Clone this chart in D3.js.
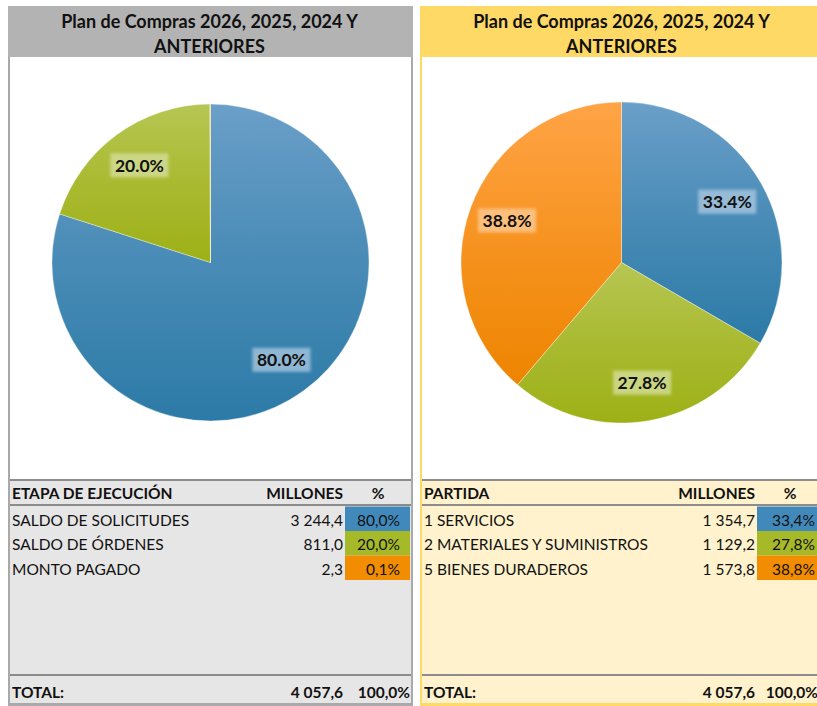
<!DOCTYPE html>
<html lang="es">
<head>
<meta charset="UTF-8">
<title>Plan de Compras</title>
<script src="https://cdn.jsdelivr.net/npm/d3@7"></script>
<style>
  body { margin: 0; background: #fff; }
  text { font-family: Lato, "Open Sans", sans-serif; }
  .title { font-size: 18px; font-weight: bold; fill: #111; }
  .cell { font-size: 15.5px; fill: #111; }
  .bold { font-weight: bold; }
  .plabel { font-size: 17.5px; font-weight: bold; fill: #111; }
</style>
</head>
<body>
<svg id="chart" width="817" height="706"></svg>
<script>
// ---- datos ----
var titulo = ["Plan de Compras 2026, 2025, 2024 Y", "ANTERIORES"];

var etapas = ["SALDO DE SOLICITUDES", "SALDO DE ÓRDENES", "MONTO PAGADO"];
var etapaMillones = [3244.4, 811.0, 2.3];
var etapaTotal = 4057.6;

var partidas = ["1 SERVICIOS", "2 MATERIALES Y SUMINISTROS", "5 BIENES DURADEROS"];
var partidaMillones = [1354.7, 1129.2, 1573.8];
var partidaTotal = 4057.6;

// colores de las rebanadas (arriba, abajo) y de las celdas
var sliceTop = ["#6a9fc8", "#b7c653", "#ffa446"];
var sliceBot = ["#2c7aa7", "#9db116", "#ee8500"];
var cellColor = ["#4189bb", "#a6b929", "#f28c00"];

var svg = d3.select("#chart");
var defs = svg.append("defs");

var es = d3.formatLocale({ decimal: ",", thousands: " ", grouping: [3], currency: ["", ""] });
var fmtNum = es.format(",.1f");
var fmtPct = es.format(".1%");
var fmtLbl = d3.format(".1%");

sliceTop.forEach(function(c, i) {
  var g = defs.append("linearGradient").attr("id", "grad" + i)
    .attr("x1", 0).attr("y1", 0).attr("x2", 0).attr("y2", 1);
  g.append("stop").attr("offset", "0%").attr("stop-color", c);
  g.append("stop").attr("offset", "50%").attr("stop-color", d3.interpolateRgb(c, sliceBot[i])(0.55));
  g.append("stop").attr("offset", "100%").attr("stop-color", sliceBot[i]);
});
defs.append("filter").attr("id", "blur")
  .attr("x", "-30%").attr("y", "-30%").attr("width", "160%").attr("height", "160%")
  .append("feGaussianBlur").attr("stdDeviation", 1.6);

function panel(opt) {
  var g = svg.append("g").attr("transform", "translate(" + opt.x + ",0)");
  var w = opt.w;

  // fondo tabla + zona blanca
  g.append("rect").attr("x", 0).attr("y", 6).attr("width", w).attr("height", 700).attr("fill", opt.border);
  g.append("rect").attr("x", 2).attr("y", 57).attr("width", w - 4).attr("height", 424).attr("fill", "#fff");
  g.append("rect").attr("x", 2).attr("y", 481).attr("width", w - 4).attr("height", 222).attr("fill", opt.tableBg);

  // titulo
  g.append("rect").attr("x", 0).attr("y", 6).attr("width", w).attr("height", 51).attr("fill", opt.header);
  g.selectAll(".title").data(titulo).enter().append("text")
    .attr("class", "title")
    .attr("x", w / 2 - 1)
    .attr("y", function(d, i) { return 21 + i * 25; })
    .attr("text-anchor", "middle")
    .attr("dominant-baseline", "central")
    .text(function(d) { return d; });

  // pie
  var total = d3.sum(opt.values);
  var pie = d3.pie().sort(null).value(function(d) { return d; });
  var arcs = pie(opt.values);
  var arc = d3.arc().innerRadius(0).outerRadius(opt.r);
  var lab = d3.arc().innerRadius(opt.r * 0.76).outerRadius(opt.r * 0.76);
  var pg = g.append("g").attr("transform", "translate(" + opt.cx + "," + opt.cy + ")");
  pg.selectAll("path").data(arcs).enter().append("path")
    .attr("d", arc)
    .attr("fill", function(d, i) { return "url(#grad" + i + ")"; })
    .attr("stroke", "rgba(255,255,255,0.45)")
    .attr("stroke-width", 0.8);

  var labs = pg.selectAll(".pl").data(arcs.filter(function(d) { return d.value / total >= 0.01; }))
    .enter().append("g").attr("class", "pl")
    .attr("transform", function(d) { return "translate(" + lab.centroid(d) + ")"; });
  labs.append("rect")
    .attr("x", -29).attr("y", -12).attr("width", 58).attr("height", 24)
    .attr("fill", function(d) { return d3.interpolateRgb(sliceTop[d.index], "#fff")(0.45); })
    .attr("opacity", 0.75)
    .attr("filter", "url(#blur)");
  labs.append("text").attr("class", "plabel")
    .attr("text-anchor", "middle").attr("dominant-baseline", "central")
    .text(function(d) { return fmtLbl(d.value / total); });

  // tabla
  var colNum = opt.colNum;
  var rowY = d3.scaleBand().domain(d3.range(opt.labels.length)).range([506.5, 580]);

  g.append("text").attr("class", "cell bold").attr("x", 4).attr("y", 493)
    .attr("dominant-baseline", "central").text(opt.head);
  g.append("text").attr("class", "cell bold").attr("x", colNum).attr("y", 493)
    .attr("text-anchor", "end").attr("dominant-baseline", "central").text("MILLONES");
  g.append("text").attr("class", "cell bold").attr("x", colNum + 35).attr("y", 493)
    .attr("text-anchor", "middle").attr("dominant-baseline", "central").text("%");

  var rows = g.selectAll(".row").data(opt.labels).enter().append("g").attr("class", "row")
    .attr("transform", function(d, i) { return "translate(0," + rowY(i) + ")"; });
  rows.append("rect").attr("x", colNum + 2).attr("y", 0)
    .attr("width", opt.cellW).attr("height", rowY.bandwidth())
    .attr("fill", function(d, i) { return cellColor[i]; });
  rows.append("text").attr("class", "cell").attr("x", 4).attr("y", rowY.bandwidth() / 2 + 1)
    .attr("dominant-baseline", "central").text(function(d) { return d; });
  rows.append("text").attr("class", "cell").attr("x", colNum).attr("y", rowY.bandwidth() / 2 + 1)
    .attr("text-anchor", "end").attr("dominant-baseline", "central")
    .text(function(d, i) { return fmtNum(opt.values[i]); });
  rows.append("text").attr("class", "cell").attr("x", opt.pctEnd).attr("y", rowY.bandwidth() / 2 + 1)
    .attr("text-anchor", "end").attr("dominant-baseline", "central")
    .text(function(d, i) { return fmtPct(opt.values[i] / total); });

  // total
  g.append("text").attr("class", "cell bold").attr("x", 4).attr("y", 692)
    .attr("dominant-baseline", "central").text("TOTAL:");
  g.append("text").attr("class", "cell bold").attr("x", colNum).attr("y", 692)
    .attr("text-anchor", "end").attr("dominant-baseline", "central").text(fmtNum(opt.total));
  g.append("text").attr("class", "cell bold").attr("x", opt.totEnd).attr("y", 692)
    .attr("text-anchor", "end").attr("dominant-baseline", "central").text(fmtPct(1));

  // lineas grises
  [480, 505, 675].forEach(function(y) {
    g.append("line").attr("x1", 2).attr("x2", w - 2).attr("y1", y).attr("y2", y)
      .attr("stroke", "#8c8c8c").attr("stroke-width", 2);
  });
}

panel({ x: 8, w: 405, border: "#a9a9a9", header: "#b3b3b3", tableBg: "#e7e6e6",
        head: "ETAPA DE EJECUCIÓN", labels: etapas, values: etapaMillones, total: etapaTotal,
        cx: 202.5, cy: 262.5, r: 158.5, colNum: 335, cellW: 65, pctEnd: 392, totEnd: 402 });
panel({ x: 420, w: 405, border: "#ffd966", header: "#ffd966", tableBg: "#fff2cc",
        head: "PARTIDA", labels: partidas, values: partidaMillones, total: partidaTotal,
        cx: 201.5, cy: 262.5, r: 160.5, colNum: 335, cellW: 70, pctEnd: 395, totEnd: 398 });
</script>
</body>
</html>
